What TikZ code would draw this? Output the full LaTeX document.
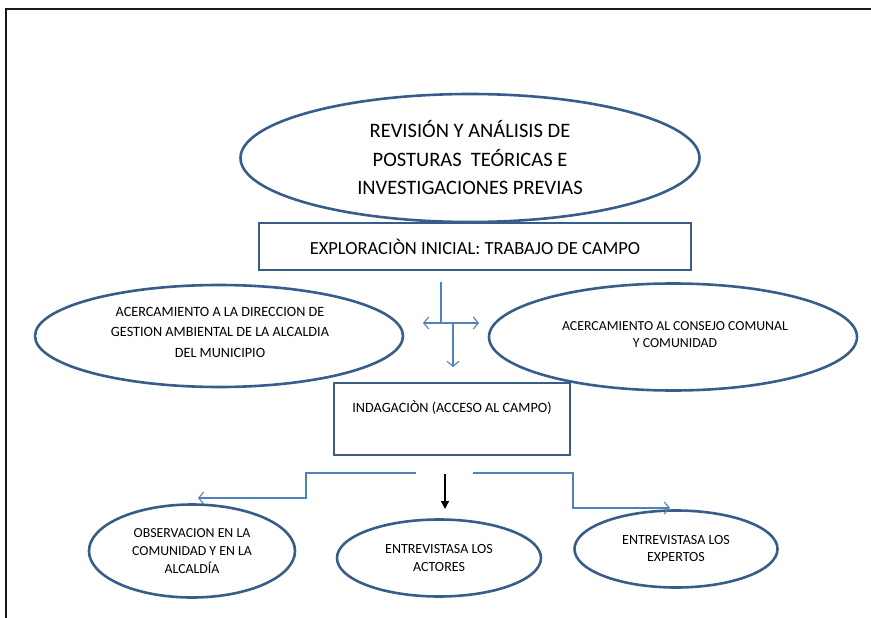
\documentclass[tikz,border=0pt]{standalone}
\usepackage{fontspec}
\setmainfont{Carlito}
\usetikzlibrary{shapes.geometric,arrows.meta}
\definecolor{bord}{HTML}{385D8A}
\definecolor{conn}{HTML}{4F81BD}
\tikzset{
  oval/.style={draw=bord, line width=2.6pt, ellipse, inner sep=0pt, align=center},
  boxnode/.style={draw=bord, line width=2.6pt, rectangle, inner sep=0pt, align=center},
  lbl/.style={align=center, inner sep=0pt},
  conline/.style={draw=conn, line width=1.1pt},
  openarr/.style={-{Straight Barb[length=5pt,width=12pt]}},
  blackarr/.style={draw=black, line width=1.3pt, -{Triangle[length=8pt,width=8pt]}}
}
\begin{document}
\begin{tikzpicture}[x=1pt,y=-1pt]
\useasboundingbox (0,0) rectangle (871,618);
% frame
\draw[line width=2.6pt, color=black!90] (6,618) -- (6,9) -- (875,9);

% top ellipse
\node[oval, minimum width=459pt, minimum height=128pt, font=\fontsize{20.5}{28.5}\selectfont] (rev) at (470,158)
  {REVISIÓN Y ANÁLISIS DE\\POSTURAS\ \ TEÓRICAS E\\INVESTIGACIONES PREVIAS};

% exploration box
\node[boxnode, minimum width=432pt, minimum height=47pt, font=\fontsize{18.5}{20}\selectfont] (expl) at (475,246.5)
  {EXPLORACIÒN INICIAL:\ TRABAJO DE CAMPO};

% left ellipse
\node[oval, minimum width=368pt, minimum height=102pt] (dir) at (219,336) {};
\node[lbl, font=\fontsize{14.2}{20.5}\selectfont] (dirtext) at (220,332)
  {ACERCAMIENTO A LA DIRECCION DE\\GESTION AMBIENTAL DE LA ALCALDIA\\DEL MUNICIPIO};

% right ellipse
\node[oval, minimum width=368pt, minimum height=107pt] (cons) at (673,337) {};
\node[lbl, font=\fontsize{13.8}{17}\selectfont] (constext) at (675,335)
  {ACERCAMIENTO AL CONSEJO COMUNAL\\Y COMUNIDAD};

% indagacion box
\node[boxnode, minimum width=236pt, minimum height=72pt] (indag) at (452,419) {};
\node[lbl, font=\fontsize{14.2}{16}\selectfont] (indagtext) at (452,408) {INDAGACIÒN (ACCESO AL CAMPO)};

% bottom ellipses
\node[oval, minimum width=206pt, minimum height=93pt, font=\fontsize{13.8}{18}\selectfont] (obs) at (192,551)
  {OBSERVACION EN LA\\COMUNIDAD Y EN LA\\ALCALDÍA};
\node[oval, minimum width=204pt, minimum height=77pt, font=\fontsize{14}{18}\selectfont] (act) at (439,558)
  {ENTREVISTASA LOS\\ACTORES};
\node[oval, minimum width=203pt, minimum height=77pt, font=\fontsize{14}{17}\selectfont] (exp) at (676,549)
  {ENTREVISTASA LOS\\EXPERTOS};

% cross connector
\coordinate (c1) at (441,282);
\coordinate (c2) at (441,323);
\coordinate (cl) at (423,323);
\coordinate (cr) at (479,323);
\coordinate (c3) at (453,323);
\coordinate (c4) at (453,367);
\draw[conline] (c1) -- (c2);
\draw[conline, openarr] (c2) -- (cl);
\draw[conline, openarr] (c2) -- (cr);
\draw[conline, openarr] (c3) -- (c4);

% bottom connectors
\coordinate (l1) at (416,473);
\coordinate (l2) at (306,473);
\coordinate (l3) at (306,498);
\coordinate (l4) at (198,498);
\draw[conline, openarr] (l1) -- (l2) -- (l3) -- (l4);

\coordinate (r1) at (473,473);
\coordinate (r2) at (573,473);
\coordinate (r3) at (573,508);
\coordinate (r4) at (670,508);
\draw[conline, openarr] (r1) -- (r2) -- (r3) -- (r4);

\coordinate (m1) at (445,474);
\coordinate (m2) at (445,509);
\draw[blackarr] (m1) -- (m2);
\end{tikzpicture}
\end{document}
